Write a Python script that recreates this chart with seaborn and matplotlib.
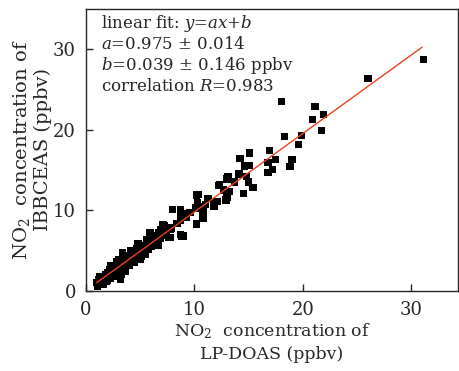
import numpy as np
import pandas as pd
import matplotlib
matplotlib.use('Agg')
import matplotlib.pyplot as plt
import seaborn as sns

# LP-DOAS vs IBBCEAS NO2 (ppbv)
lp_doas = [31.1, 26.0, 18.0, 21.1, 20.9, 21.9, 21.7, 19.9, 18.3, 19.6, 19.0, 18.8,
           16.9, 16.8, 17.5, 17.2, 16.8, 15.1, 14.2, 14.6, 15.1, 14.1, 14.8, 15.0,
           15.4, 14.5, 13.1, 13.0, 13.7, 12.3, 12.7, 13.2, 12.9, 13.0, 12.1, 11.8,
           11.2, 11.0, 10.2, 10.3, 10.1, 10.8, 10.8, 10.2, 9.6, 9.3, 8.7, 8.0,
           8.7, 8.4, 9.0, 8.7, 7.8, 7.6, 7.1, 6.9, 6.7, 5.9, 6.2, 6.5,
           5.9, 5.6, 5.3, 5.0, 4.8, 4.4, 4.1, 3.7, 3.4, 3.3, 2.8, 2.7,
           2.8, 3.2, 2.4, 2.1, 1.9, 1.3, 1.2, 1.0, 1.5,
           12.2, 10.4, 11.3, 11.8, 10.5, 10.8, 9.3, 8.7, 7.1, 7.9, 8.8, 7.8,
           6.8, 6.5, 6.2,
           1.1, 1.4, 1.6, 1.8, 2.0, 2.2, 2.3, 2.5, 2.6, 2.9, 3.0, 3.1,
           3.3, 3.5, 3.6, 3.8, 3.9, 4.0, 4.2, 4.3, 4.5, 4.6, 4.7, 4.9,
           5.1, 5.2, 5.4, 5.5, 5.7, 5.8, 6.0, 6.1, 6.3, 6.4, 6.6, 6.9,
           7.0, 7.3, 7.4, 7.5, 1.7, 2.0, 2.6, 3.4, 4.4,
           2.3, 3.0, 4.1, 5.0, 5.6, 6.7, 7.2, 3.6, 4.8]
ibbceas = [28.7, 26.4, 23.5, 22.9, 21.3, 21.9, 19.9, 19.3, 19.2, 18.2, 16.3, 15.4,
           17.4, 15.9, 16.3, 15.1, 14.7, 17.1, 16.4, 15.5, 15.6, 14.5, 14.2, 13.5,
           12.8, 12.1, 14.2, 13.9, 13.5, 13.2, 12.5, 12.3, 11.3, 11.6, 11.1, 10.5,
           11.5, 10.7, 11.9, 10.9, 10.3, 10.0, 9.0, 8.3, 9.7, 9.6, 10.1, 10.1,
           8.8, 8.4, 6.8, 7.0, 7.6, 6.6, 8.0, 7.6, 7.2, 7.2, 6.6, 5.9,
           5.8, 5.3, 4.7, 5.5, 4.1, 4.2, 4.7, 4.3, 4.7, 3.4, 3.6, 3.0,
           1.8, 1.4, 2.4, 1.8, 1.2, 1.8, 1.4, 1.0, 1.0,
           13.1, 12.0, 11.5, 10.9, 10.5, 9.7, 9.1, 9.3, 8.2, 7.8, 6.8, 6.6,
           7.2, 6.1, 6.8,
           0.6, 1.6, 0.8, 2.0, 1.3, 2.6, 1.5, 1.9, 2.8, 2.2, 3.3, 2.5,
           2.0, 3.8, 2.9, 3.5, 4.4, 3.2, 3.9, 4.8, 3.6, 4.5, 5.2, 4.6,
           4.3, 5.6, 5.0, 4.5, 6.0, 5.1, 5.5, 6.3, 5.7, 6.7, 6.2, 6.5,
           7.0, 7.3, 6.9, 7.6, 1.5, 2.2, 2.3, 3.0, 4.0,
           3.1, 3.9, 5.0, 3.9, 6.4, 5.6, 8.1, 2.4, 5.8]

# fit parameters and fit range
slope = 0.975
intercept = 0.039
fit_range = [1.0, 31.0]

df = pd.DataFrame({'lp': lp_doas, 'ib': ibbceas})

sns.set_style('ticks')
plt.rcParams['font.family'] = ['DejaVu Serif']
plt.rcParams['mathtext.fontset'] = 'dejavuserif'

fig = plt.figure(figsize=(4.59, 3.71), dpi=100)
ax = fig.add_axes([0.187, 0.216, 0.811, 0.76])

sns.scatterplot(data=df, x='lp', y='ib', marker='s', s=28, color='black',
                edgecolor='none', ax=ax, zorder=2)

fx = np.array(fit_range)
ax.plot(fx, slope * fx + intercept, color='#f0401e', lw=1.0, zorder=3)

ax.set_xlim(0, 34.3)
ax.set_ylim(0, 35)
ax.set_xticks([0, 10, 20, 30])
ax.set_yticks([0, 10, 20, 30])
ax.tick_params(direction='in', length=5, width=1, labelsize=13, pad=7,
               top=False, right=False)
for sp in ax.spines.values():
    sp.set_linewidth(1)

ax.set_xlabel('NO$_2$  concentration of\nLP-DOAS (ppbv)', fontsize=12.5,
              linespacing=1.35, labelpad=2)
ax.set_ylabel('NO$_2$  concentration of\nIBBCEAS (ppbv)', fontsize=14,
              linespacing=1.1, labelpad=1)

txt = ('linear fit: $y$=$ax$+$b$\n'
       '$a$=0.975 $\\pm$ 0.014\n'
       '$b$=0.039 $\\pm$ 0.146 ppbv\n'
       'correlation $R$=0.983')
ax.text(0.04, 0.985, txt, transform=ax.transAxes, va='top', ha='left',
        fontsize=12, linespacing=1.15)

fig.savefig('out.png', dpi=100)
